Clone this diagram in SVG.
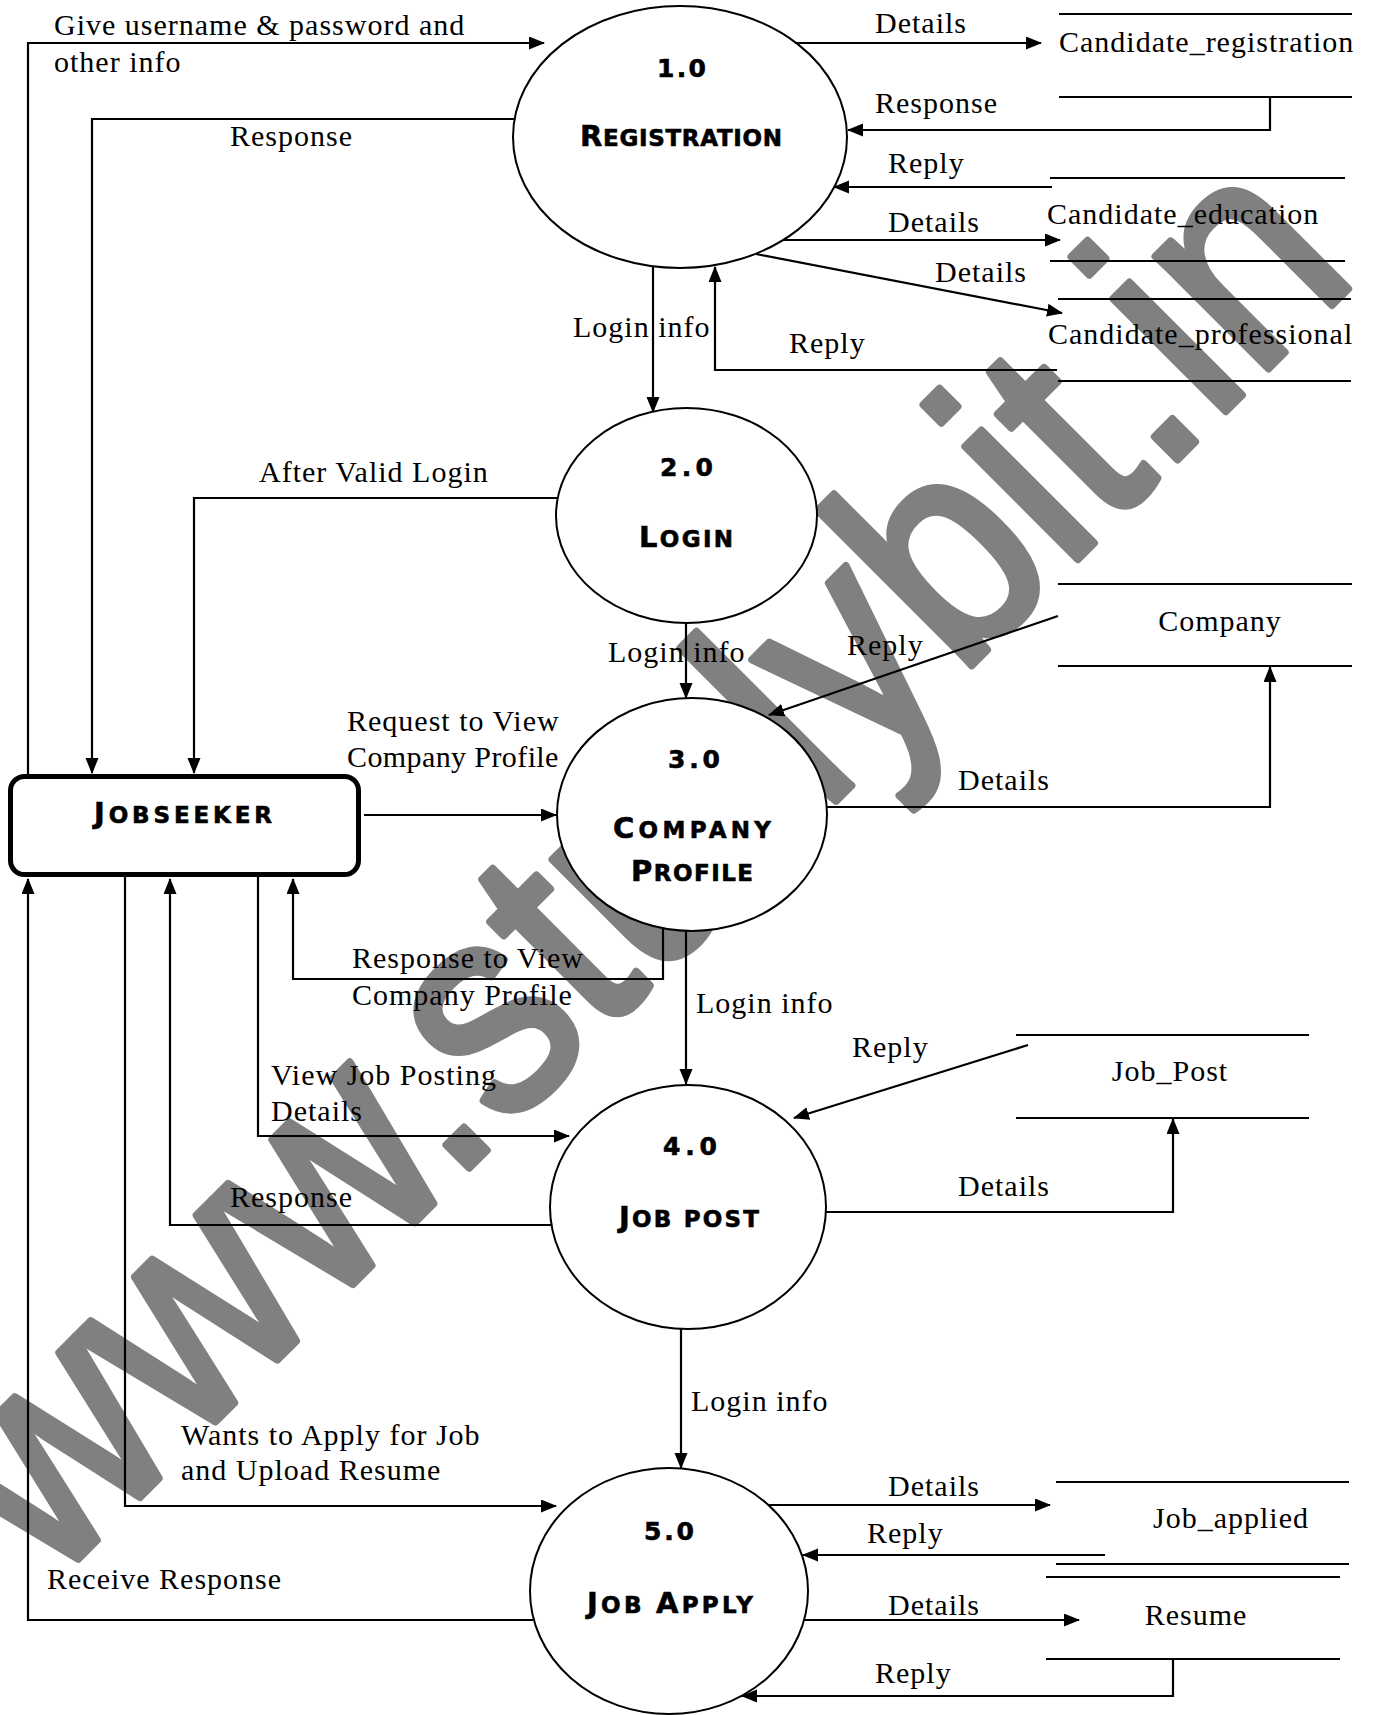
<svg xmlns="http://www.w3.org/2000/svg" width="1375" height="1715" viewBox="0 0 1375 1715">
<defs>
<style>
.lbl{font-family:"Liberation Serif","Times New Roman",serif;font-size:30px;letter-spacing:1px;fill:#000}
.mid{text-anchor:middle}
.nl{font-family:"DejaVu Sans","Liberation Sans",sans-serif;font-weight:bold;fill:#000;stroke:#000;stroke-width:0.6}
.big{font-size:29px}
.sm{font-size:23px;text-transform:uppercase}
.num{font-size:25px}
.proc{fill:#fff;stroke:#000;stroke-width:2}
.store line{stroke:#000;stroke-width:2.2}
#connectors path{fill:none;stroke:#000;stroke-width:2.2}
</style>
<marker id="arr" markerUnits="userSpaceOnUse" markerWidth="16" markerHeight="14" refX="15" refY="6.5" orient="auto">
<path d="M0,0 L16,6.5 L0,13 z" fill="#000"/>
</marker>
</defs>
<rect width="1375" height="1715" fill="#fff"/>
<text id="watermark" transform="translate(50,1587) rotate(-45) scale(1,1.12)" font-family="Liberation Sans, Arial, sans-serif" font-size="269" fill="#808080" stroke="#808080" stroke-width="7" stroke-linejoin="round">www.studybit.in</text>

<g id="node-registration">
<ellipse class="proc" cx="680" cy="137" rx="167" ry="131"/>
<text class="nl num" x="657" y="77" textLength="49" lengthAdjust="spacing">1.0</text>
<text class="nl" x="580" y="146" textLength="202" lengthAdjust="spacing"><tspan class="big">R</tspan><tspan class="sm">egistration</tspan></text>
</g>
<g id="node-login">
<ellipse class="proc" cx="686.5" cy="515.5" rx="130.5" ry="107.5"/>
<text class="nl num" x="660" y="476" textLength="53" lengthAdjust="spacing">2.0</text>
<text class="nl" x="639" y="547" textLength="94" lengthAdjust="spacing"><tspan class="big">L</tspan><tspan class="sm">ogin</tspan></text>
</g>
<g id="node-company-profile">
<ellipse class="proc" cx="692" cy="814.5" rx="135" ry="116.5"/>
<text class="nl num" x="668" y="768" textLength="52" lengthAdjust="spacing">3.0</text>
<text class="nl" x="613" y="838" textLength="158" lengthAdjust="spacing"><tspan class="big">C</tspan><tspan class="sm">ompany</tspan></text>
<text class="nl" x="631" y="881" textLength="122" lengthAdjust="spacing"><tspan class="big">P</tspan><tspan class="sm">rofile</tspan></text>
</g>
<g id="node-job-post">
<ellipse class="proc" cx="688" cy="1207" rx="138" ry="122"/>
<text class="nl num" x="663" y="1155" textLength="54" lengthAdjust="spacing">4.0</text>
<text class="nl" x="619" y="1227" textLength="140" lengthAdjust="spacing"><tspan class="big">J</tspan><tspan class="sm">ob post</tspan></text>
</g>
<g id="node-job-apply">
<ellipse class="proc" cx="669" cy="1591" rx="139" ry="123"/>
<text class="nl num" x="644" y="1540" textLength="50" lengthAdjust="spacing">5.0</text>
<text class="nl" x="587" y="1613" textLength="166" lengthAdjust="spacing"><tspan class="big">J</tspan><tspan class="sm">ob </tspan><tspan class="big">A</tspan><tspan class="sm">pply</tspan></text>
</g>
<g id="node-jobseeker">
<rect x="10.5" y="776.5" width="348" height="98" rx="14" fill="#fff" stroke="#000" stroke-width="5"/>
<text class="nl" x="94" y="823" textLength="178" lengthAdjust="spacing"><tspan class="big">J</tspan><tspan class="sm">obseeker</tspan></text>
</g>

<g id="store-candidate-registration" class="store">
<line x1="1059" y1="14" x2="1352" y2="14"/><line x1="1059" y1="97" x2="1352" y2="97"/>
<text class="lbl" x="1059" y="52">Candidate_registration</text>
</g>
<g id="store-candidate-education" class="store">
<line x1="1050" y1="178" x2="1345" y2="178"/><line x1="1050" y1="261" x2="1345" y2="261"/>
<text class="lbl" x="1047" y="224">Candidate_education</text>
</g>
<g id="store-candidate-professional" class="store">
<line x1="1058" y1="299" x2="1351" y2="299"/><line x1="1058" y1="381" x2="1351" y2="381"/>
<text class="lbl" x="1048" y="344">Candidate_professional</text>
</g>
<g id="store-company" class="store">
<line x1="1058" y1="584" x2="1352" y2="584"/><line x1="1058" y1="666" x2="1352" y2="666"/>
<text class="lbl mid" x="1220" y="631">Company</text>
</g>
<g id="store-job-post" class="store">
<line x1="1016" y1="1035" x2="1309" y2="1035"/><line x1="1016" y1="1118" x2="1309" y2="1118"/>
<text class="lbl mid" x="1170" y="1081">Job_Post</text>
</g>
<g id="store-job-applied" class="store">
<line x1="1056" y1="1482" x2="1349" y2="1482"/><line x1="1056" y1="1564" x2="1349" y2="1564"/>
<text class="lbl mid" x="1231" y="1528">Job_applied</text>
</g>
<g id="store-resume" class="store">
<line x1="1046" y1="1577" x2="1340" y2="1577"/><line x1="1046" y1="1659" x2="1340" y2="1659"/>
<text class="lbl mid" x="1196" y="1625">Resume</text>
</g>

<g id="connectors">
<path d="M28,775 V43 H544" marker-end="url(#arr)"/>
<path d="M514,119 H92 V773" marker-end="url(#arr)"/>
<path d="M653,266 V412" marker-end="url(#arr)"/>
<path d="M558,498 H194 V773" marker-end="url(#arr)"/>
<path d="M686,623 V698" marker-end="url(#arr)"/>
<path d="M364,815 H556" marker-end="url(#arr)"/>
<path d="M663,928 V979 H293 V879" marker-end="url(#arr)"/>
<path d="M686,931 V1084" marker-end="url(#arr)"/>
<path d="M1058,616 L769,715" marker-end="url(#arr)"/>
<path d="M827,807 H1270 V667" marker-end="url(#arr)"/>
<path d="M795,43 H1041" marker-end="url(#arr)"/>
<path d="M1270,97 V130 H848" marker-end="url(#arr)"/>
<path d="M1052,187 H834" marker-end="url(#arr)"/>
<path d="M783,240 H1060" marker-end="url(#arr)"/>
<path d="M756,254 L1062,313" marker-end="url(#arr)"/>
<path d="M1057,370 H715 V267" marker-end="url(#arr)"/>
<path d="M1028,1045 L794,1118" marker-end="url(#arr)"/>
<path d="M826,1212 H1173 V1119" marker-end="url(#arr)"/>
<path d="M258,877 V1136 H569" marker-end="url(#arr)"/>
<path d="M551,1225 H170 V879" marker-end="url(#arr)"/>
<path d="M681,1329 V1468" marker-end="url(#arr)"/>
<path d="M125,877 V1506 H556" marker-end="url(#arr)"/>
<path d="M533,1620 H28 V879" marker-end="url(#arr)"/>
<path d="M768,1505 H1050" marker-end="url(#arr)"/>
<path d="M1105,1555 H803" marker-end="url(#arr)"/>
<path d="M804,1620 H1079" marker-end="url(#arr)"/>
<path d="M1173,1659 V1696 H742" marker-end="url(#arr)"/>
</g>

<g id="connector-labels" class="lbl">
<text x="54" y="35">Give username &amp; password and</text>
<text x="54" y="72">other info</text>
<text x="230" y="146">Response</text>
<text x="573" y="337">Login info</text>
<text x="259" y="482">After Valid Login</text>
<text x="875" y="33">Details</text>
<text x="875" y="113">Response</text>
<text x="888" y="173">Reply</text>
<text x="888" y="232">Details</text>
<text x="935" y="282">Details</text>
<text x="789" y="353">Reply</text>
<text x="608" y="662">Login info</text>
<text x="847" y="655">Reply</text>
<text x="958" y="790">Details</text>
<text x="347" y="731">Request to View</text>
<text x="347" y="767" style="letter-spacing:0.4px">Company Profile</text>
<text x="352" y="968">Response to View</text>
<text x="352" y="1005">Company Profile</text>
<text x="696" y="1013">Login info</text>
<text x="852" y="1057">Reply</text>
<text x="271" y="1085">View Job Posting</text>
<text x="271" y="1121">Details</text>
<text x="230" y="1207">Response</text>
<text x="958" y="1196">Details</text>
<text x="691" y="1411">Login info</text>
<text x="181" y="1445">Wants to Apply for Job</text>
<text x="181" y="1480">and Upload Resume</text>
<text x="47" y="1589">Receive Response</text>
<text x="888" y="1496">Details</text>
<text x="867" y="1543">Reply</text>
<text x="888" y="1615">Details</text>
<text x="875" y="1683">Reply</text>
</g>
</svg>
